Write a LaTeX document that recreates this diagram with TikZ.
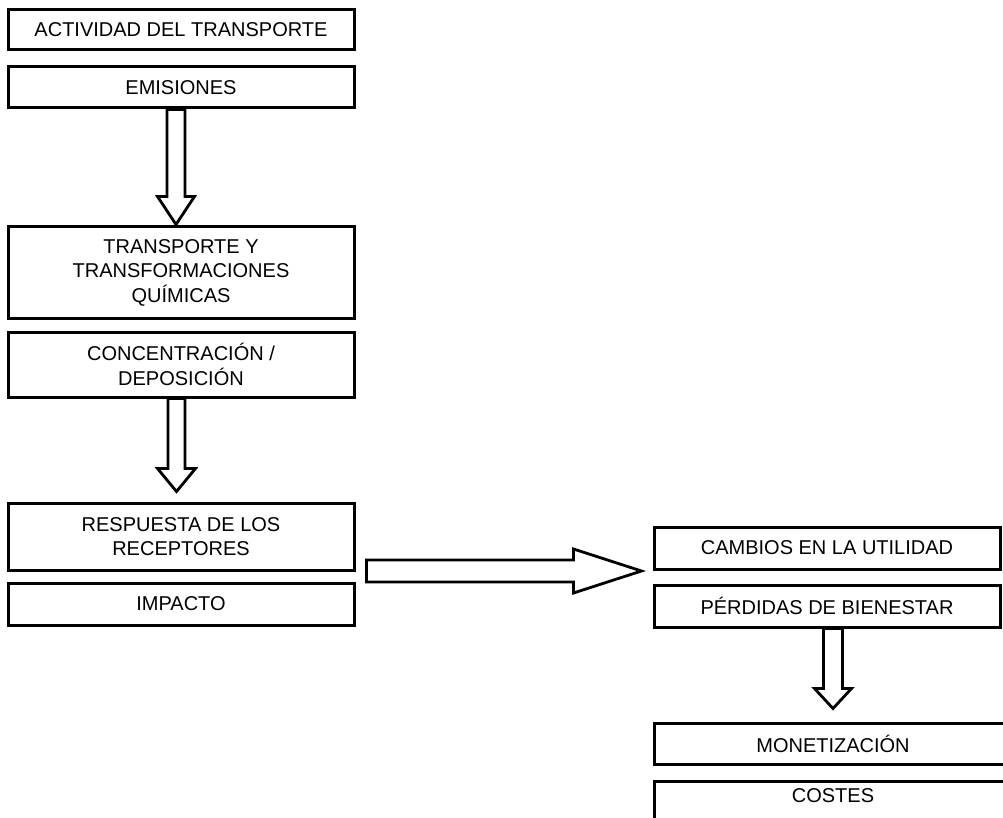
\documentclass[tikz,border=0pt]{standalone}
\usepackage{fontspec}
\setmainfont{Liberation Sans}
\usetikzlibrary{calc}
\tikzset{
  box/.style={draw=black, line width=3pt, fill=white, rectangle, inner sep=0pt, align=center,
    font=\fontsize{20}{24.5}\selectfont},
  lbox/.style={box, minimum width=346pt},
  blk/.style={draw=black, line width=2.8pt, fill=white, line join=miter},
  txt/.style={inner sep=0pt, align=center, font=\fontsize{20}{24.5}\selectfont}
}
% #1 start, #2 tip, #3 shaft half width, #4 head half width, #5 head length
\newcommand{\blockdown}[5]{%
  \draw[blk] let \p1=(#1), \p2=(#2) in
    (\x2-#3,\y1) -- (\x2-#3,\y2+#5) -- (\x2-#4,\y2+#5) -- (\p2) --
    (\x2+#4,\y2+#5) -- (\x2+#3,\y2+#5) -- (\x2+#3,\y1) -- cycle;}
\newcommand{\blockright}[5]{%
  \draw[blk] let \p1=(#1), \p2=(#2) in
    (\x1,\y2+#3) -- (\x2-#5,\y2+#3) -- (\x2-#5,\y2+#4) -- (\p2) --
    (\x2-#5,\y2-#4) -- (\x2-#5,\y2-#3) -- (\x1,\y2-#3) -- cycle;}
\begin{document}
\begin{tikzpicture}[x=1pt,y=-1pt]
\useasboundingbox (0,0) rectangle (1003,818);
\clip (0,0) rectangle (1003,818);
\fill[white] (0,0) rectangle (1003,818);

% left column
\node[lbox, minimum height=40pt] (act) at (181,30) {ACTIVIDAD DEL TRANSPORTE};
\node[lbox, minimum height=41pt] (emi) at (181,87.5) {EMISIONES};
\node[lbox, minimum height=91pt] (tra) at (181,272.5) {TRANSPORTE Y\\TRANSFORMACIONES\\QUÍMICAS};
\node[lbox, minimum height=65pt] (con) at (181,364.5) {CONCENTRACIÓN /\\DEPOSICIÓN};
\node[lbox, minimum height=67pt] (res) at (181,536.5) {RESPUESTA DE LOS\\RECEPTORES};
\node[lbox, minimum height=42pt] (imp) at (181,604) {IMPACTO};

% right column
\node[lbox, minimum height=42pt] (cam) at (827,548) {CAMBIOS EN LA UTILIDAD};
\node[lbox, minimum height=42pt] (per) at (827,606) {PÉRDIDAS DE BIENESTAR};
\node[box, minimum width=358pt, minimum height=41pt] (mon) at (833,743.5) {MONETIZACIÓN};
\node[box, minimum width=358pt, minimum height=60pt, anchor=north] (cos) at (833,780) {};
\node[txt] (costxt) at ($(cos.north)+(0,16)$) {COSTES};

% block arrows
\coordinate (a1s) at ($(emi.south)+(-5,0)$);
\coordinate (a1t) at ($(tra.north)+(-5,-1)$);
\blockdown{a1s}{a1t}{9pt}{18.5pt}{28pt}

\coordinate (a2s) at ($(con.south)+(-4.5,0)$);
\coordinate (a2t) at ($(res.north)+(-4.5,-10)$);
\blockdown{a2s}{a2t}{8.5pt}{19pt}{23pt}

\coordinate (a3s) at ($(per.south)+(5.5,0)$);
\coordinate (a3t) at ($(mon.north)+(0,-13)$);
\blockdown{a3s}{a3t}{9.5pt}{18.5pt}{20pt}

\coordinate (a4s) at ($(res.east)+(11,0)$);
\coordinate (a4t) at (cam.west |- 0,571);
\coordinate (a4tip) at ($(a4t)+(-11,0)$);
\blockright{a4s}{a4tip}{11pt}{22pt}{68pt}
\end{tikzpicture}
\end{document}
